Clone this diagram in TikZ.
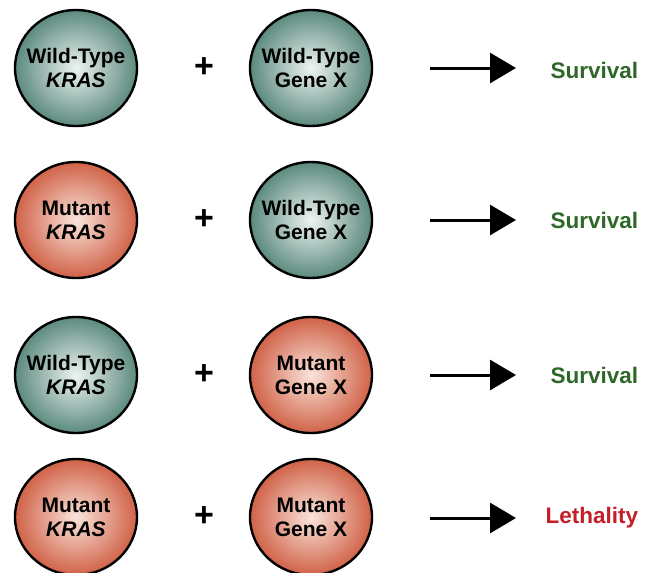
\documentclass[tikz,border=0pt]{standalone}
\usepackage{fontspec}
\setmainfont{Liberation Sans}
\usepackage{tikz}
\usetikzlibrary{arrows.meta, shapes.geometric}

\definecolor{wtedge}{RGB}{92,138,126}
\definecolor{wtcore}{RGB}{236,243,241}
\definecolor{mutedge}{RGB}{208,98,72}
\definecolor{mutcore}{RGB}{250,228,218}
\definecolor{survgreen}{RGB}{46,104,40}
\definecolor{lethred}{RGB}{196,30,40}

\begin{document}
\begin{tikzpicture}[x=1pt, y=-1pt,
    gene/.style={ellipse, draw=black, line width=2.4pt, minimum width=122pt, minimum height=116pt,
        inner xsep=-10pt, inner ysep=0pt, align=center, font=\bfseries\fontsize{21}{24}\selectfont},
    wt/.style={gene, shade, inner color=wtcore, outer color=wtedge},
    mut/.style={gene, shade, inner color=mutcore, outer color=mutedge},
    plus/.style={font=\bfseries\fontsize{34}{34}\selectfont},
    result/.style={anchor=west, font=\bfseries\fontsize{22.5}{24}\selectfont},
    arr/.style={line width=3pt, -{Triangle[length=26pt, width=30pt]}}]
    \useasboundingbox (0,0) rectangle (648,573);

    % Zeile 1: Wildtyp + Wildtyp
    \node[wt] (k1) at (76,68) {Wild-Type\\\textit{KRAS}};
    \node[plus] (p1) at (204,68) {+};
    \node[wt] (g1) at (311,68) {Wild-Type\\Gene X};
    \coordinate (a1) at (430,68);
    \coordinate (b1) at (516,68);
    \draw[arr] (a1) -- (b1);
    \node[result, text=survgreen] (r1) at (547,70) {Survival};

    % Zeile 2: Mutante KRAS + Wildtyp
    \node[mut] (k2) at (76,220) {Mutant\\\textit{KRAS}};
    \node[plus] (p2) at (204,220) {+};
    \node[wt] (g2) at (311,220) {Wild-Type\\Gene X};
    \coordinate (a2) at (430,220);
    \coordinate (b2) at (516,220);
    \draw[arr] (a2) -- (b2);
    \node[result, text=survgreen] (r2) at (547,220) {Survival};

    % Zeile 3: Wildtyp + Mutante Gene X
    \node[wt] (k3) at (76,375) {Wild-Type\\\textit{KRAS}};
    \node[plus] (p3) at (204,375) {+};
    \node[mut] (g3) at (311,375) {Mutant\\Gene X};
    \coordinate (a3) at (430,375);
    \coordinate (b3) at (516,375);
    \draw[arr] (a3) -- (b3);
    \node[result, text=survgreen] (r3) at (547,375) {Survival};

    % Zeile 4: beide mutiert -> synthetische Letalitaet
    \node[mut] (k4) at (76,517) {Mutant\\\textit{KRAS}};
    \node[plus] (p4) at (204,517) {+};
    \node[mut] (g4) at (311,517) {Mutant\\Gene X};
    \coordinate (a4) at (430,518);
    \coordinate (b4) at (516,518);
    \draw[arr] (a4) -- (b4);
    \node[result, text=lethred] (r4) at (542,518) {Lethality};
\end{tikzpicture}
\end{document}
